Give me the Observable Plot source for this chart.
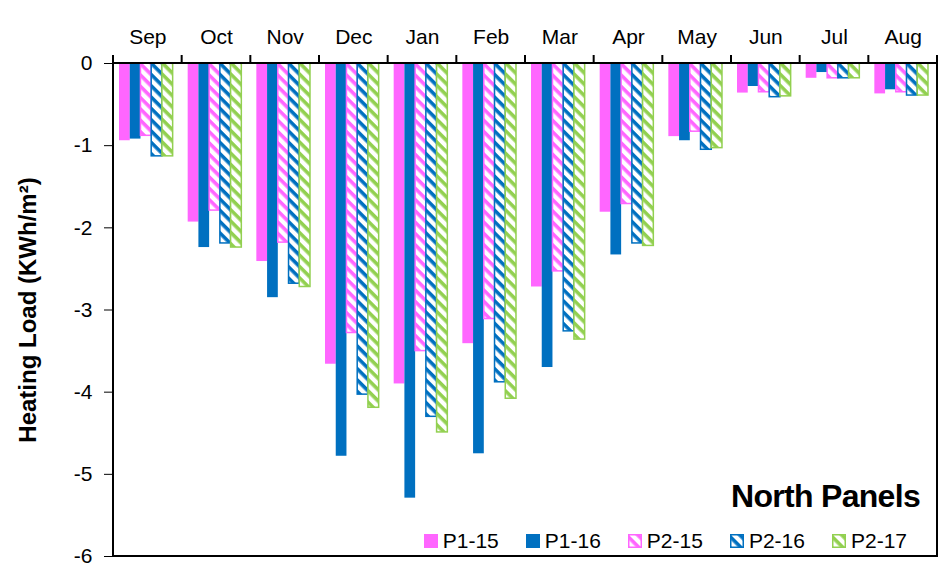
<!DOCTYPE html>
<html>
<head>
<meta charset="utf-8">
<script src="https://cdn.jsdelivr.net/npm/d3@7"></script>
<script src="https://cdn.jsdelivr.net/npm/@observablehq/plot@0.6"></script>
<style>
  body { margin: 0; background: #fff; font-family: "Liberation Sans", Arial, sans-serif; }
  #wrap { position: relative; width: 939px; height: 571px; }
  #title { position: absolute; right: 19px; top: 480px; font-weight: bold; font-size: 32px; letter-spacing: -0.7px; color: #000; line-height: 1; }
  #legend { position: absolute; right: 32px; top: 530px; display: flex; align-items: center; font-size: 21px; color: #000; line-height: 1; }
  #legend .item { display: flex; align-items: center; margin-left: 27px; }
  #legend .item:first-child { margin-left: 0; }
  #legend svg { margin-right: 5px; }
</style>
</head>
<body>
<div id="wrap"></div>
<script>
// ---- data ----
const months = ["Sep", "Oct", "Nov", "Dec", "Jan", "Feb", "Mar", "Apr", "May", "Jun", "Jul", "Aug"];
const series = ["P1-15", "P1-16", "P2-15", "P2-16", "P2-17"];
const p1_15 = [-0.94, -1.93, -2.41, -3.66, -3.90, -3.41, -2.72, -1.81, -0.89, -0.36, -0.18, -0.37];
const p1_16 = [-0.92, -2.24, -2.85, -4.78, -5.29, -4.75, -3.70, -2.33, -0.94, -0.28, -0.11, -0.32];
const p2_15 = [-0.88, -1.79, -2.18, -3.28, -3.50, -3.11, -2.53, -1.71, -0.83, -0.35, -0.18, -0.35];
const p2_16 = [-1.13, -2.19, -2.68, -4.03, -4.30, -3.88, -3.26, -2.19, -1.05, -0.41, -0.18, -0.39];
const p2_17 = [-1.13, -2.24, -2.72, -4.19, -4.49, -4.08, -3.36, -2.22, -1.03, -0.40, -0.18, -0.39];
const yTicks = [-6, -5, -4, -3, -2, -1, 0];
const yLabel = "Heating Load (KWh/m²)";
const title = "North Panels";

// ---- styles ----
const seriesColors = ["#FF66FF", "#0070C0", "#FF66FF", "#0070C0", "#92D050"];
const hatched = [false, false, true, true, true];
const patternId = (i) => "hatch-" + i;

const values = [p1_15, p1_16, p2_15, p2_16, p2_17];
const table = months.flatMap((m, i) => series.map((s, j) => ({ month: m, series: s, value: values[j][i] })));
const sIdx = (s) => series.indexOf(s);
const fillFor = (s) => hatched[sIdx(s)] ? `url(#${patternId(sIdx(s))})` : seriesColors[sIdx(s)];
const strokeFor = (s) => hatched[sIdx(s)] ? seriesColors[sIdx(s)] : "none";

const chart = Plot.plot({
  width: 939,
  height: 571,
  marginLeft: 113,
  marginRight: 2,
  marginTop: 63,
  marginBottom: 15,
  style: { fontFamily: "'Liberation Sans', Arial, sans-serif", fontSize: "21px", color: "#000", background: "#fff" },
  fx: { domain: months, paddingInner: 0, paddingOuter: 0, round: false, axis: null },
  x: { domain: series, paddingInner: 0, paddingOuter: 0.7, align: 0.4, round: false, axis: null },
  y: { domain: [-6, 0], axis: null },
  color: { type: "identity" },
  marks: [
    Plot.axisY({
      ticks: yTicks, tickFormat: (d) => String(d), tickSize: 9, tickPadding: 12,
      label: yLabel, labelAnchor: "center", labelArrow: "none", labelOffset: 95
    }),
    // month (category) labels above the zero line, one per facet
    Plot.text(months, {
      fx: (d) => d, text: (d) => d, frameAnchor: "top", lineAnchor: "bottom", dy: -20,
      fill: "#000", stroke: "none", fontSize: 21, fontWeight: "normal"
    }),
    Plot.barY(table, {
      fx: "month", x: "series", y: "value",
      fill: (d) => fillFor(d.series),
      stroke: (d) => strokeFor(d.series),
      strokeWidth: 1.5
    })
  ]
});

const svg = d3.select(chart);
// patterns
const defs = svg.insert("defs", ":first-child");
series.forEach((s, i) => {
  if (!hatched[i]) return;
  const p = defs.append("pattern")
    .attr("id", patternId(i))
    .attr("patternUnits", "userSpaceOnUse")
    .attr("width", 8).attr("height", 8)
    .attr("patternTransform", "rotate(45)");
  p.append("rect").attr("width", 8).attr("height", 8).attr("fill", "#fff");
  p.append("rect").attr("width", 8).attr("height", 3.6).attr("fill", seriesColors[i]);
});

// bold y label
svg.selectAll('g[aria-label="y-axis label"]').attr("font-weight", "bold").attr("font-size", 24);

// frame + month boundary ticks, from the scales
const fx = chart.scale("fx");
const y = chart.scale("y");
const x0 = fx.range[0], x1 = fx.range[1];
const yTop = y.apply(0), yBot = y.apply(-6);
const g = svg.append("g").attr("aria-label", "frame");
g.append("rect").attr("x", x0).attr("y", yTop).attr("width", x1 - x0).attr("height", yBot - yTop)
  .attr("fill", "none").attr("stroke", "#000").attr("stroke-width", 2);
const bounds = months.map((m) => fx.apply(m)).concat([x1]);
bounds.forEach((bx) => {
  g.append("line").attr("x1", bx).attr("x2", bx).attr("y1", yTop - 8).attr("y2", yTop)
    .attr("stroke", "#000").attr("stroke-width", 2);
});

const wrap = document.getElementById("wrap");
wrap.appendChild(chart);

// title
const t = document.createElement("div");
t.id = "title";
t.textContent = title;
wrap.appendChild(t);

// legend
const lg = document.createElement("div");
lg.id = "legend";
series.forEach((s, i) => {
  const item = document.createElement("div");
  item.className = "item";
  const sw = d3.create("svg").attr("width", 14).attr("height", 14);
  if (hatched[i]) {
    sw.append("rect").attr("x", 0.75).attr("y", 0.75).attr("width", 12.5).attr("height", 12.5)
      .attr("fill", `url(#${patternId(i)})`).attr("stroke", seriesColors[i]).attr("stroke-width", 1.5);
  } else {
    sw.append("rect").attr("width", 14).attr("height", 14).attr("fill", seriesColors[i]);
  }
  item.appendChild(sw.node());
  const tx = document.createElement("span");
  tx.textContent = s;
  item.appendChild(tx);
  lg.appendChild(item);
});
wrap.appendChild(lg);
</script>
</body>
</html>
